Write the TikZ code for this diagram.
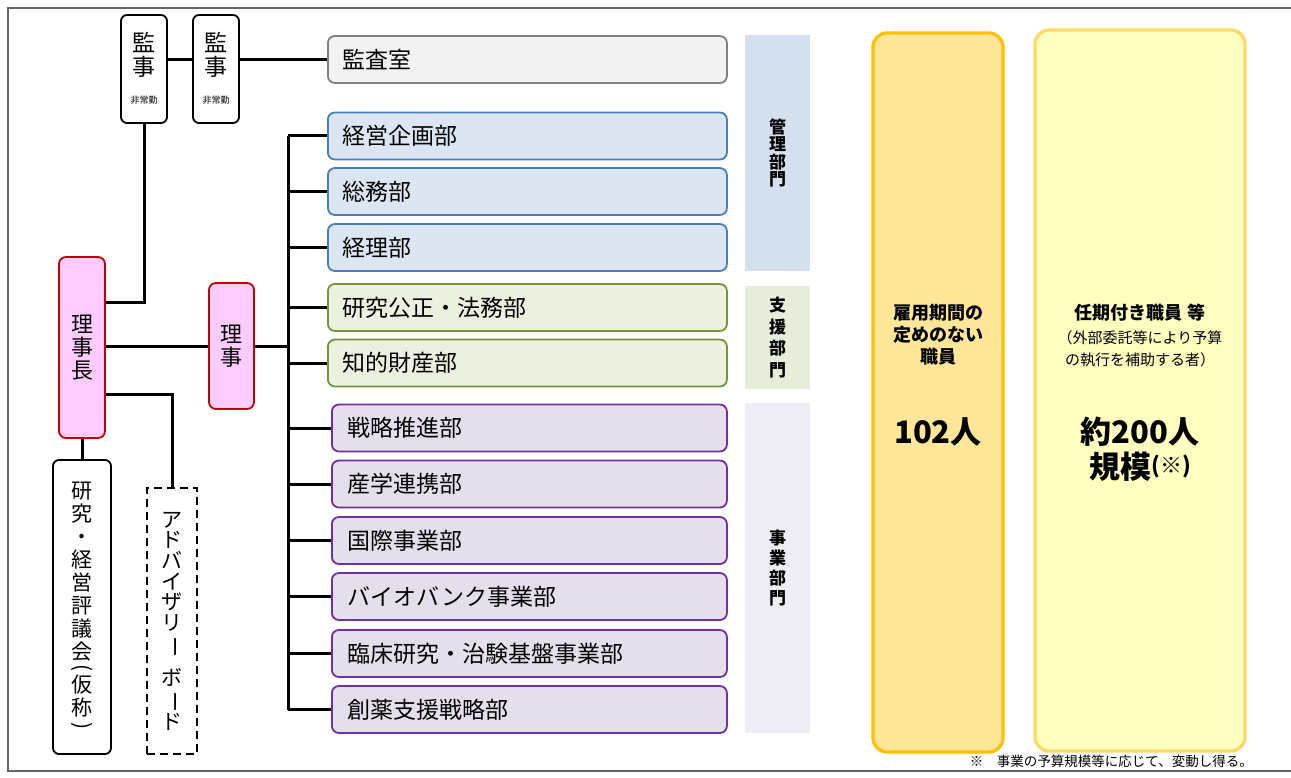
\documentclass[tikz,border=0pt]{standalone}
\usepackage{fontspec}
\setmainfont{Noto Sans CJK JP}
\usetikzlibrary{calc}
\definecolor{deptblueF}{HTML}{DCE6F2}
\definecolor{deptblueD}{HTML}{4A7EBB}
\definecolor{deptgreenF}{HTML}{EBF1DE}
\definecolor{deptgreenD}{HTML}{76923C}
\definecolor{deptpurpF}{HTML}{E5DFEC}
\definecolor{deptpurpD}{HTML}{7030A0}
\definecolor{deptgrayF}{HTML}{F2F2F2}
\definecolor{deptgrayD}{HTML}{808080}
\definecolor{pinkF}{HTML}{FFCCFF}
\definecolor{pinkD}{HTML}{C00000}
\definecolor{barblue}{HTML}{D5E0EE}
\definecolor{bargreen}{HTML}{E6EDDA}
\definecolor{barpurp}{HTML}{EEECF4}
\definecolor{amberD}{HTML}{FFC000}
\definecolor{amberF}{HTML}{FFE699}
\definecolor{yelD}{HTML}{FFD966}
\definecolor{yelF}{HTML}{FFFFC0}
\definecolor{framecol}{HTML}{666666}
\newcommand{\vrot}[1]{\rotatebox[origin=c]{-90}{#1}}
\begin{document}
\begin{tikzpicture}[x=1pt,y=-1pt,
  conn/.style={line width=3pt},
  deptbox/.style={rectangle, rounded corners=7pt, line width=1.8pt, minimum height=47pt,
    inner ysep=0pt, align=left, anchor=west, font=\fontsize{23}{23}\selectfont},
  bluedept/.style={deptbox, draw=deptblueD, fill=deptblueF, text width=369pt, inner xsep=15pt},
  greendept/.style={deptbox, draw=deptgreenD, fill=deptgreenF, text width=369pt, inner xsep=15pt},
  graydept/.style={deptbox, draw=deptgrayD, fill=deptgrayF, text width=369pt, inner xsep=15pt},
  purpdept/.style={deptbox, draw=deptpurpD, fill=deptpurpF, text width=363pt, inner xsep=16pt},
  blackbox/.style={rectangle, rounded corners=6pt, draw=black, fill=white, line width=1.8pt, inner sep=0pt},
  pinkbox/.style={rectangle, rounded corners=7pt, draw=pinkD, fill=pinkF, line width=1.8pt, inner sep=0pt,
    align=center, font=\fontsize{22}{23}\selectfont},
  catbar/.style={rectangle, inner sep=0pt, minimum width=65pt, align=center},
  vtext/.style={align=center, inner sep=0pt}
]
\useasboundingbox (0,0) rectangle (1291,778);
% frame
\draw[framecol, line width=1.3pt] (1291,8) -- (8,8) -- (8,771) -- (1291,771);

% auditors
\node[blackbox, minimum width=46pt, minimum height=108pt] (kanji1) at (144,69) {};
\node[blackbox, minimum width=46pt, minimum height=108pt] (kanji2) at (216,69) {};
\node[vtext, font=\fontsize{23}{24}\selectfont] (kj1a) at (144,55) {監\\事};
\node[vtext, font=\fontsize{9}{9}\selectfont] (kj1b) at (144,100) {非常勤};
\node[vtext, font=\fontsize{23}{24}\selectfont] (kj2a) at (216,55) {監\\事};
\node[vtext, font=\fontsize{9}{9}\selectfont] (kj2b) at (216,100) {非常勤};

% president and director
\node[pinkbox, minimum width=46pt, minimum height=181pt] (rijicho) at (82,347.5) {理\\事\\長};
\node[pinkbox, minimum width=45pt, minimum height=126pt] (riji) at (231.5,346) {理\\事};

% council and advisory board
\node[blackbox, minimum width=58pt, minimum height=294pt, align=center,
  font=\fontsize{21}{23}\selectfont] (council) at (82,607)
  {研\\究\\・\\経\\営\\評\\議\\会\\[-8pt]\vrot{(}\\[-5pt]仮\\称\\[-6pt]\vrot{)}};
\node[rectangle, draw=black, fill=white, line width=1.8pt, dash pattern=on 8pt off 5pt,
  minimum width=50pt, minimum height=266pt, inner sep=0pt, align=center,
  font=\fontsize{21}{20.7}\selectfont] (advisory) at (172,621)
  {ア\\ド\\バ\\イ\\ザ\\リ\\\vrot{ー}\\[10pt]ボ\\\vrot{ー}\\ド};

% departments
\node[graydept] (kansa) at (327,59.5) {監査室};
\node[bluedept] (keiei) at (327,136) {経営企画部};
\node[bluedept] (soumu) at (327,191.5) {総務部};
\node[bluedept] (keiri) at (327,247.5) {経理部};
\node[greendept] (kousei) at (327,307.5) {研究公正・法務部};
\node[greendept] (chiteki) at (327,363) {知的財産部};
\node[purpdept] (senryaku) at (331,428) {戦略推進部};
\node[purpdept] (sangaku) at (331,484) {産学連携部};
\node[purpdept] (kokusai) at (331,540.5) {国際事業部};
\node[purpdept] (bio) at (331,596.5) {バイオバンク事業部};
\node[purpdept] (rinsho) at (331,653.5) {臨床研究・治験基盤事業部};
\node[purpdept] (souyaku) at (331,709.5) {創薬支援戦略部};

% category bars
\node[catbar, fill=barblue, minimum height=236pt, font=\bfseries\fontsize{17}{17.5}\selectfont] (kanri) at (777.5,153) {管\\理\\部\\門};
\node[catbar, fill=bargreen, minimum height=103pt, font=\bfseries\fontsize{17}{21.7}\selectfont] (shien) at (777.5,337.5) {支\\援\\部\\門};
\node[catbar, fill=barpurp, minimum height=330pt, font=\bfseries\fontsize{17}{20}\selectfont] (jigyou) at (777.5,568) {事\\業\\部\\門};

% staff boxes
\node[rectangle, rounded corners=14pt, draw=amberD, fill=amberF, line width=3.3pt,
  minimum width=130pt, minimum height=719pt] (koyou) at (938,392.5) {};
\node[rectangle, rounded corners=14pt, draw=yelD, fill=yelF, line width=3.3pt,
  minimum width=210pt, minimum height=721pt] (ninki) at (1140,390.5) {};
\node[vtext, font=\bfseries\fontsize{18}{22}\selectfont] (koyoutxt) at (938,335) {雇用期間の\\定めのない\\職員};
\node[vtext, font=\bfseries\fontsize{31}{31}\selectfont] (num1) at (938,432) {102人};
\node[vtext, font=\bfseries\fontsize{18}{22}\selectfont] (ninkitxt) at (1140,313) {任期付き職員 等};
\node[vtext, font=\fontsize{15}{22}\selectfont] (ninkisub) at (1140,349) {（外部委託等により予算\\の執行を補助する者）};
\node[vtext, font=\bfseries\fontsize{31}{31}\selectfont] (num2) at (1140,432) {約200人};
\node[vtext, font=\bfseries\fontsize{31}{31}\selectfont] (num3) at (1140,467) {規模\raisebox{5pt}{\fontsize{22}{22}\selectfont (※)}};
\node[inner sep=0pt, anchor=east, font=\fontsize{13.5}{13.5}\selectfont] (note) at (1253,761) {※　事業の予算規模等に応じて、変動し得る。};

% connectors
\draw[conn] (kanji1.east |- kansa.west) -- (kanji2.west |- kansa.west);
\draw[conn] (kanji2.east |- kansa.west) -- (kansa.west);
\draw[conn] (kanji1.south) |- ($(rijicho.east)+(0,-45.5)$);
\draw[conn] (rijicho.east |- riji.west) -- (riji.west);
\draw[conn] ($(rijicho.east)+(0,46.5)$) -| (advisory.north);
\draw[conn] (rijicho.south) -- (council.north);
\coordinate (trunk) at (288,346);
\draw[conn] (riji.east) -- (trunk);
\draw[conn] (trunk |- keiei.west) -- (trunk |- souyaku.west);
\foreach \d in {keiei,soumu,keiri,kousei,chiteki,senryaku,sangaku,kokusai,bio,rinsho,souyaku}
  \draw[conn] (trunk |- \d.west) -- (\d.west);
\end{tikzpicture}
\end{document}
